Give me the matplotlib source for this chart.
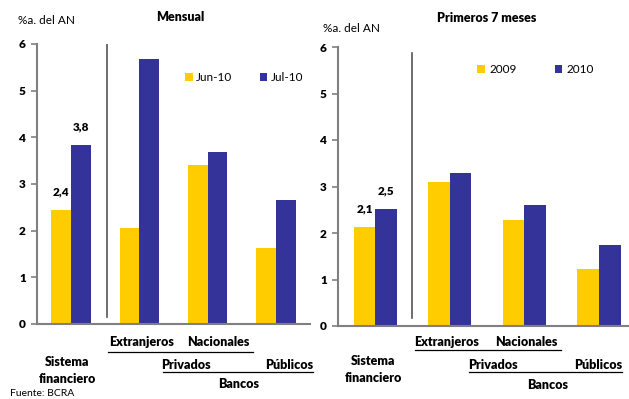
import matplotlib
matplotlib.use("Agg")
import matplotlib.pyplot as plt
from matplotlib.transforms import blended_transform_factory
import numpy as np

plt.rcParams['font.family'] = ['Lato', 'DejaVu Sans']

categories = ["Sistema financiero", "Extranjeros", "Nacionales", "Públicos"]

# Monthly panel
monthly_series = ["Jun-10", "Jul-10"]
monthly_jun = [2.44, 2.06, 3.40, 1.63]
monthly_jul = [3.83, 5.67, 3.68, 2.65]

# First 7 months panel
ytd_series = ["2009", "2010"]
ytd_2009 = [2.13, 3.10, 2.28, 1.23]
ytd_2010 = [2.52, 3.29, 2.60, 1.74]

yticks = [0, 1, 2, 3, 4, 5, 6]

YELLOW = "#FFCC00"
BLUE = "#333399"
GRAY = "#808080"

W, H = 629, 399
fig = plt.figure(figsize=(W / 100, H / 100), dpi=100)


def fy(py):
    return 1 - py / H


def panel(rect, xmax, title, title_xy, unit_xy, s1, s2, names, sep_x, sep_y,
          labels, lines, legend_anchor, legend_colspace, legend_pad):
    ax = fig.add_axes(rect)
    x = np.arange(len(categories))
    bw = 0.29
    b1 = ax.bar(x - bw / 2, s1, bw, color=YELLOW, label=names[0])
    b2 = ax.bar(x + bw / 2, s2, bw, color=BLUE, label=names[1])
    ax.set_xlim(-0.5, xmax)
    ax.set_ylim(0, 6)
    ax.set_yticks(yticks)
    ax.set_yticklabels([str(t) for t in yticks], fontweight="heavy", fontsize=8.5)
    ax.set_xticks([])
    for s in ("top", "right"):
        ax.spines[s].set_visible(False)
    ax.spines["left"].set_color(GRAY)
    ax.spines["bottom"].set_color(GRAY)
    ax.spines["left"].set_linewidth(1.5)
    ax.spines["bottom"].set_linewidth(1.5)
    ax.tick_params(axis="y", direction="out", length=4, width=1.2, color=GRAY, pad=4)

    # value labels for the total system
    for bars, vals in ((b1, s1), (b2, s2)):
        r = bars[0]
        ax.annotate(f"{vals[0]:.1f}".replace(".", ","),
                    (r.get_x() + r.get_width() / 2, vals[0]),
                    xytext=(0, 9), textcoords="offset points",
                    ha="center", va="bottom", fontsize=8.5, fontweight="heavy")

    # separator between the system and bank groups
    ax.axvline(sep_x, ymin=sep_y[0], ymax=sep_y[1], color="#555555", lw=1.2)

    tr = blended_transform_factory(ax.transData, fig.transFigure)
    for txt, xd, py in labels:
        ax.text(xd, fy(py), txt, transform=tr, ha="center", va="center",
                fontsize=9, fontweight="heavy", clip_on=False)
    for x0, x1, py in lines:
        ax.plot([x0, x1], [fy(py), fy(py)], transform=tr, color="black",
                lw=0.9, clip_on=False)

    fig.text(title_xy[0] / W, fy(title_xy[1]), title, ha="center", va="center",
             fontsize=9, fontweight="heavy")
    fig.text(unit_xy[0] / W, fy(unit_xy[1]), "%a. del AN", ha="left",
             va="center", fontsize=8.5)

    ax.legend(loc="upper left", bbox_to_anchor=(legend_anchor[0] / W, fy(legend_anchor[1])),
              bbox_transform=fig.transFigure, ncol=2, frameon=False,
              handlelength=0.65, handleheight=0.65, handletextpad=legend_pad,
              columnspacing=legend_colspace, borderpad=0, borderaxespad=0,
              prop={"size": 8.5})
    return ax


panel([37 / W, 75 / H, 273 / W, 280 / H], 3.5, "Mensual", (180, 17), (18, 20),
      monthly_jun, monthly_jul, monthly_series, 0.53, (0.025, 1.0),
      [("Extranjeros", 1.03, 342), ("Nacionales", 2.15, 342),
       ("Privados", 1.68, 365), ("Públicos", 3.2, 365),
       ("Bancos", 2.46, 384), ("Sistema", -0.06, 362),
       ("financiero", -0.06, 379)],
      [(0.54, 2.66, 352), (1.34, 3.54, 372)],
      (185, 72), 2.3, 0.3)

panel([338 / W, 73 / H, 290 / W, 279 / H], 3.39, "Primeros 7 meses", (487, 18), (323, 29),
      ytd_2009, ytd_2010, ytd_series, 0.49, (0.03, 0.98),
      [("Extranjeros", 0.96, 342), ("Nacionales", 2.02, 342),
       ("Privados", 1.58, 365), ("Públicos", 2.99, 365),
       ("Bancos", 2.31, 385), ("Sistema", -0.03, 361),
       ("financiero", -0.03, 378)],
      [(0.53, 2.49, 350), (1.26, 3.31, 372)],
      (477, 64), 3.2, 0.4)

fig.text(10 / W, fy(394), "Fuente: BCRA", ha="left", va="center", fontsize=7.5)

fig.savefig("out.png", dpi=100)
